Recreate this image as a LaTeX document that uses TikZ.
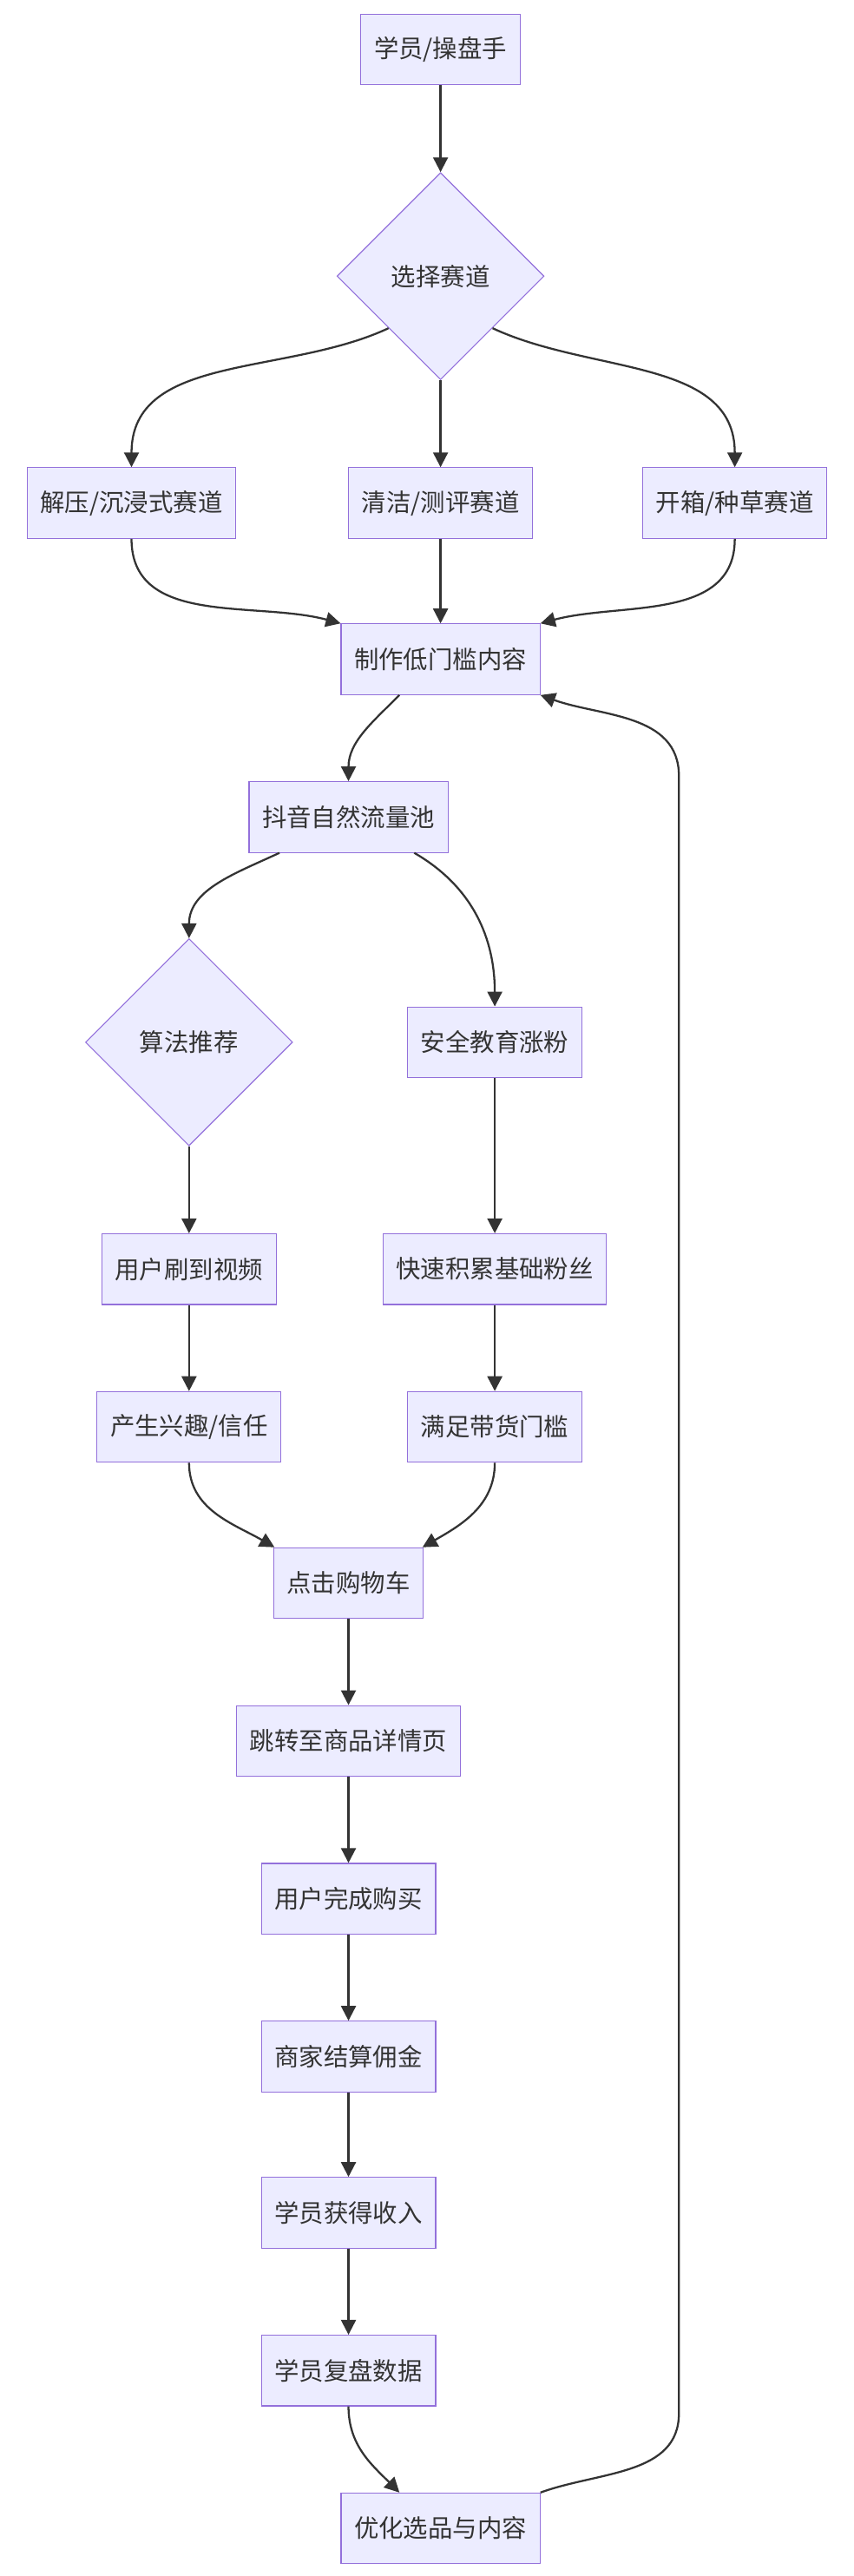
\documentclass[tikz,border=0pt]{standalone}
\usepackage{fontspec}
\setmainfont{Noto Sans CJK SC}
\usetikzlibrary{shapes.geometric,arrows.meta}
\definecolor{boxfill}{HTML}{ECECFF}
\definecolor{boxline}{HTML}{9370DB}
\definecolor{arr}{HTML}{333333}
\tikzset{
  box/.style={rectangle,draw=boxline,fill=boxfill,line width=0.6pt,minimum height=43pt,inner xsep=8pt,font=\fontsize{15}{18}\selectfont,text=arr},
  dia/.style={diamond,draw=boxline,fill=boxfill,line width=0.6pt,minimum width=126pt,minimum height=126pt,inner sep=0pt,font=\fontsize{15}{18}\selectfont,text=arr},
  link/.style={draw=arr,line width=1.2pt,-{Triangle[length=9pt,width=9pt]}}
}
\begin{document}
\begin{tikzpicture}[x=1pt,y=-1pt]
	\useasboundingbox (0,0) rectangle (519,1567);
	\node[box] (stu) at (268,30) {学员/操盘手};
	\node[dia] (sel) at (268,168) {选择赛道};
	\node[box] (t1) at (80,306) {解压/沉浸式赛道};
	\node[box] (t2) at (268,306) {清洁/测评赛道};
	\node[box] (t3) at (447,306) {开箱/种草赛道};
	\node[box] (make) at (268,401) {制作低门槛内容};
	\node[box] (pool) at (212,497) {抖音自然流量池};
	\node[dia] (algo) at (115,634) {算法推荐};
	\node[box] (safe) at (301,634) {安全教育涨粉};
	\node[box] (see) at (115,772) {用户刷到视频};
	\node[box] (fans) at (301,772) {快速积累基础粉丝};
	\node[box] (trust) at (115,868) {产生兴趣/信任};
	\node[box] (gate) at (301,868) {满足带货门槛};
	\node[box] (cart) at (212,963) {点击购物车};
	\node[box] (page) at (212,1059) {跳转至商品详情页};
	\node[box] (buy) at (212,1155) {用户完成购买};
	\node[box] (pay) at (212,1251) {商家结算佣金};
	\node[box] (earn) at (212,1346) {学员获得收入};
	\node[box] (rev) at (212,1442) {学员复盘数据};
	\node[box] (opt) at (268,1538) {优化选品与内容};
	\coordinate (r1) at (413,1468);
	\coordinate (r2) at (413,472);
	% edges
	\draw[link] (stu) -- (sel);
	\draw[link] (sel.south west) to[out=205,in=90] (t1.north);
	\draw[link] (sel) -- (t2);
	\draw[link] (sel.south east) to[out=-25,in=90] (t3.north);
	\draw[link] (t1.south) to[out=270,in=165] (make.north west);
	\draw[link] (t2) -- (make);
	\draw[link] (t3.south) to[out=270,in=15] (make.north east);
	\draw[link] ([xshift=-25]make.south) to[out=225,in=90] (pool.north);
	\draw[link] ([xshift=-42]pool.south) to[out=205,in=90] (algo.north);
	\draw[link] ([xshift=40]pool.south) to[out=330,in=90] (safe.north);
	\draw[link] (algo) -- (see);
	\draw[link] (see) -- (trust);
	\draw[link] (safe) -- (fans);
	\draw[link] (fans) -- (gate);
	\draw[link] (trust.south) to[out=270,in=150] ([xshift=-45]cart.north);
	\draw[link] (gate.south) to[out=270,in=30] ([xshift=45]cart.north);
	\draw[link] (cart) -- (page);
	\draw[link] (page) -- (buy);
	\draw[link] (buy) -- (pay);
	\draw[link] (pay) -- (earn);
	\draw[link] (earn) -- (rev);
	\draw[link] (rev.south) to[out=270,in=135] ([xshift=-25]opt.north);
	\draw[link] (opt.north east) to[out=20,in=270] (r1) -- (r2) to[out=90,in=-20] (make.south east);
\end{tikzpicture}
\end{document}
